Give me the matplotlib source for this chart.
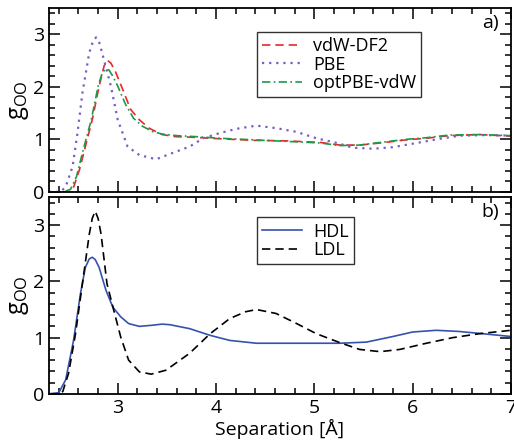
import matplotlib
matplotlib.use("Agg")
import matplotlib.pyplot as plt
from matplotlib.ticker import MultipleLocator

plt.rcParams['font.family'] = ['Open Sans', 'DejaVu Sans']

# panel a) - exchange-correlation functionals
r_df2 = [2.30, 2.45, 2.50, 2.54, 2.61, 2.67, 2.74, 2.81, 2.86, 2.89, 2.93, 2.98, 3.05, 3.13, 3.22,
         3.32, 3.45, 3.59, 3.75, 4.04, 4.38, 4.72, 5.06, 5.26, 5.46, 5.67, 5.94, 6.14, 6.37, 6.68, 7.00]
g_df2 = [0, 0, 0.0, 0.03, 0.42, 0.86, 1.37, 2.01, 2.39, 2.51, 2.45, 2.27, 1.95, 1.57, 1.37,
         1.21, 1.09, 1.05, 1.04, 1.01, 0.98, 0.97, 0.94, 0.89, 0.89, 0.93, 0.99, 1.02, 1.07, 1.09, 1.06]

r_pbe = [2.30, 2.42, 2.47, 2.54, 2.59, 2.64, 2.71, 2.75, 2.78, 2.81, 2.84, 2.93, 3.00, 3.10, 3.22, 3.39,
         3.53, 3.73, 3.87, 4.04, 4.21, 4.41, 4.62, 4.82, 5.02, 5.23, 5.39, 5.60, 5.80, 6.07, 6.28,
         6.48, 6.75, 7.00]
g_pbe = [0, 0.0, 0.10, 0.48, 1.12, 1.88, 2.65, 2.88, 2.94, 2.85, 2.65, 2.01, 1.37, 0.86, 0.70, 0.62,
         0.72, 0.86, 1.02, 1.12, 1.20, 1.26, 1.21, 1.14, 1.02, 0.93, 0.84, 0.82, 0.85, 0.94, 1.01,
         1.07, 1.08, 1.07]

r_opt = [2.30, 2.45, 2.52, 2.58, 2.64, 2.73, 2.80, 2.84, 2.87, 2.91, 2.95, 3.00, 3.08, 3.16, 3.25,
         3.35, 3.45, 3.60, 3.80, 4.04, 4.38, 4.72, 5.06, 5.26, 5.46, 5.67, 5.94, 6.14, 6.37, 6.68, 7.00]
g_opt = [0, 0, 0.05, 0.29, 0.74, 1.37, 2.01, 2.25, 2.33, 2.32, 2.20, 2.01, 1.66, 1.40, 1.25,
         1.15, 1.10, 1.07, 1.05, 1.02, 0.99, 0.96, 0.93, 0.88, 0.89, 0.94, 1.00, 1.03, 1.08, 1.09, 1.07]

# panel b) - high / low density liquid
r_hdl = [2.30, 2.40, 2.47, 2.55, 2.62, 2.67, 2.71, 2.74, 2.77, 2.81, 2.88, 2.95, 3.03, 3.11, 3.22,
         3.35, 3.45, 3.53, 3.73, 3.94, 4.14, 4.41, 4.89, 5.26, 5.53, 5.80, 6.00, 6.24, 6.47, 6.71, 7.00]
g_hdl = [0, 0.02, 0.25, 0.95, 1.78, 2.25, 2.40, 2.43, 2.39, 2.25, 1.84, 1.54, 1.37, 1.25, 1.20,
         1.22, 1.24, 1.23, 1.16, 1.04, 0.95, 0.90, 0.90, 0.90, 0.92, 1.02, 1.10, 1.13, 1.11, 1.07, 1.02]

r_ldl = [2.30, 2.40, 2.44, 2.50, 2.57, 2.64, 2.71, 2.74, 2.77, 2.80, 2.83, 2.89, 2.96, 3.03, 3.11,
         3.22, 3.34, 3.49, 3.61, 3.73, 3.94, 4.14, 4.30, 4.41, 4.61, 4.82, 5.02, 5.26, 5.46, 5.67,
         5.87, 6.14, 6.41, 6.68, 7.00]
g_ldl = [0, 0, 0.04, 0.37, 1.07, 1.96, 2.84, 3.12, 3.25, 3.12, 2.84, 1.96, 1.48, 1.01, 0.60,
         0.39, 0.35, 0.42, 0.57, 0.72, 1.07, 1.34, 1.46, 1.50, 1.43, 1.25, 1.07, 0.91, 0.79, 0.75,
         0.79, 0.90, 1.00, 1.07, 1.13]

fig = plt.figure(figsize=(5.14, 4.41), dpi=100)
ax1 = fig.add_axes([0.0953, 0.565, 0.8987, 0.417])
ax2 = fig.add_axes([0.0953, 0.107, 0.8987, 0.446])

ax1.plot(r_df2, g_df2, color='#e8262b', ls=(0, (5, 3)), lw=1.2, label='vdW-DF2')
ax1.plot(r_pbe, g_pbe, color='#7a5cc6', ls=(0, (1, 2.2)), lw=1.6, label='PBE')
ax1.plot(r_opt, g_opt, color='#1b9a4b', ls=(0, (5, 2, 1, 2)), lw=1.2, label='optPBE-vdW')

ax2.plot(r_hdl, g_hdl, color='#3552ad', lw=1.2, label='HDL')
ax2.plot(r_ldl, g_ldl, color='black', ls=(0, (5, 3)), lw=1.2, label='LDL')

for ax in (ax1, ax2):
    ax.set_xlim(2.3, 7)
    ax.set_ylim(0, 3.5)
    ax.xaxis.set_major_locator(MultipleLocator(1))
    ax.xaxis.set_minor_locator(MultipleLocator(0.2))
    ax.yaxis.set_major_locator(MultipleLocator(1))
    ax.yaxis.set_minor_locator(MultipleLocator(0.2))
    ax.tick_params(which='both', direction='in', top=True, right=True, labelsize=14, width=1.1)
    ax.tick_params(which='major', length=8)
    ax.tick_params(which='minor', length=4.5)
    for s in ax.spines.values():
        s.set_linewidth(1.3)
    ax.set_ylabel(r'g$_{\mathregular{OO}}$', fontsize=17, labelpad=1)

ax1.tick_params(labelbottom=False)
ax2.set_xlabel('Separation [Å]', fontsize=14, labelpad=2)

leg_kw = dict(loc='upper left', fontsize=13, frameon=True, fancybox=False, edgecolor='black',
              handlelength=2.2, labelspacing=0.02, borderpad=0.3, handletextpad=0.6,
              borderaxespad=0)
leg1 = ax1.legend(bbox_to_anchor=(0.45, 0.87), **leg_kw)
leg1.get_frame().set_linewidth(1.0)
leg2 = ax2.legend(bbox_to_anchor=(0.45, 0.898), **leg_kw)
leg2.get_frame().set_linewidth(1.0)

ax1.text(0.955, 0.92, 'a)', transform=ax1.transAxes, fontsize=14, ha='center', va='center')
ax2.text(0.955, 0.925, 'b)', transform=ax2.transAxes, fontsize=14, ha='center', va='center')

fig.savefig('out.png', dpi=100)
